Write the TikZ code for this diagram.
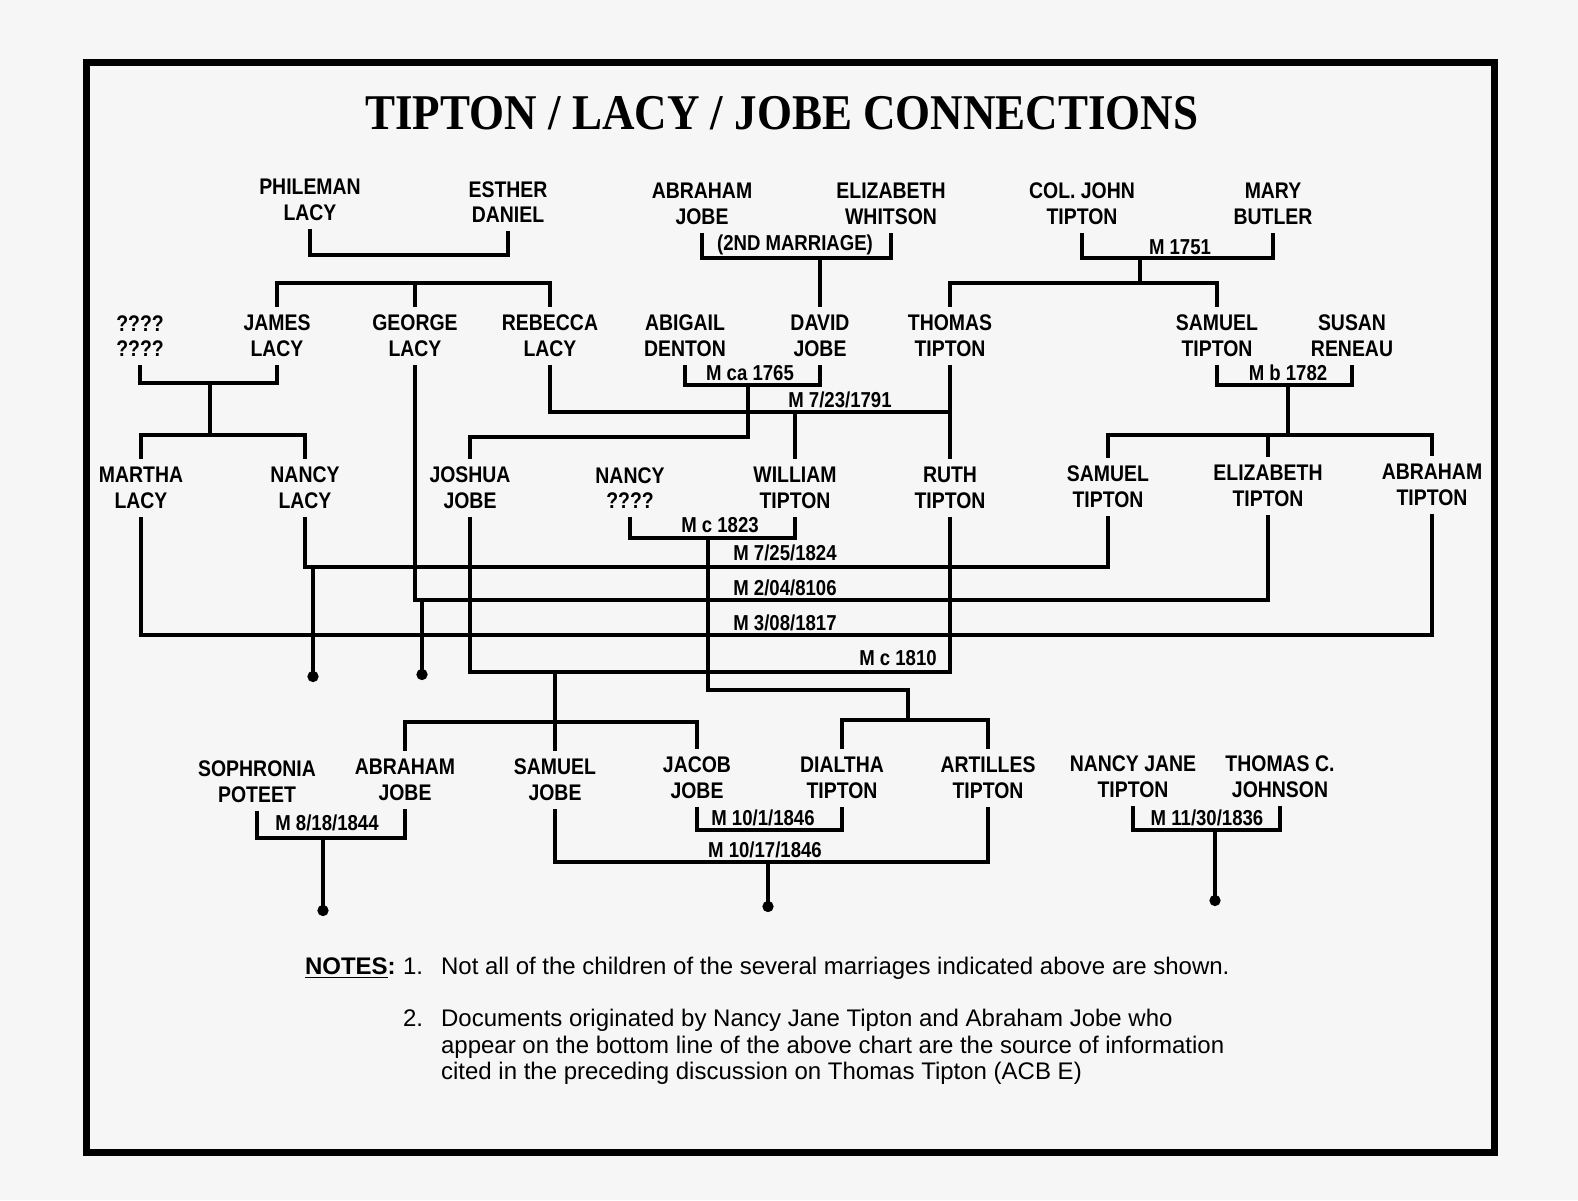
\documentclass[tikz,border=0pt]{standalone}
\usepackage{fontspec}
\setmainfont{Liberation Sans}
\newfontfamily\namefont{Liberation Sans}[FakeStretch=0.86]
\newfontfamily\titlefont{Liberation Serif}[FakeStretch=0.9]
\usetikzlibrary{positioning, arrows.meta}

\begin{document}
\begin{tikzpicture}[
    x=0.5pt, y=-0.5pt,
    person/.style={align=center, inner sep=4pt, font=\namefont\fontsize{11.3}{12.8}\selectfont\bfseries},
    mlabel/.style={inner sep=1pt, font=\namefont\fontsize{10.8}{12}\selectfont\bfseries},
    link/.style={line width=2pt},
    child/.style={line width=2pt, -{Circle[length=5.5pt]}},
    note/.style={anchor=west, align=left, font=\fontsize{12}{13.2}\selectfont}
]
    \useasboundingbox (0,0) rectangle (1578,1200);
    \fill[white!93!gray] (0,0) rectangle (1578,1200);
    \draw[line width=3.5pt] (86,62) rectangle (1494,1152);
    \node[font=\titlefont\fontsize{25}{27}\selectfont\bfseries] (title) at (782,113) {TIPTON / LACY / JOBE CONNECTIONS};

    % first generation
    \node[person] (phileman) at (310,200) {PHILEMAN\\LACY};
    \node[person] (esther) at (508,202) {ESTHER\\DANIEL};
    \node[person] (abrahamJ) at (702,204) {ABRAHAM\\JOBE};
    \node[person] (elizW) at (891,204) {ELIZABETH\\WHITSON};
    \node[person] (colJohn) at (1082,204) {COL. JOHN\\TIPTON};
    \node[person] (mary) at (1273,204) {MARY\\BUTLER};

    % second generation
    \node[person] (unknown) at (140,336) {????\\????};
    \node[person] (james) at (277,336) {JAMES\\LACY};
    \node[person] (george) at (415,336) {GEORGE\\LACY};
    \node[person] (rebecca) at (550,336) {REBECCA\\LACY};
    \node[person] (abigail) at (685,336) {ABIGAIL\\DENTON};
    \node[person] (david) at (820,336) {DAVID\\JOBE};
    \node[person] (thomas) at (950,336) {THOMAS\\TIPTON};
    \node[person] (samuelS) at (1217,336) {SAMUEL\\TIPTON};
    \node[person] (susan) at (1352,336) {SUSAN\\RENEAU};

    % third generation
    \node[person] (martha) at (141,488) {MARTHA\\LACY};
    \node[person] (nancyL) at (305,488) {NANCY\\LACY};
    \node[person] (joshua) at (470,488) {JOSHUA\\JOBE};
    \node[person] (nancyQ) at (630,488) {NANCY\\????};
    \node[person] (william) at (795,488) {WILLIAM\\TIPTON};
    \node[person] (ruth) at (950,488) {RUTH\\TIPTON};
    \node[person] (samuelJr) at (1108,487) {SAMUEL\\TIPTON};
    \node[person] (elizT) at (1268,486) {ELIZABETH\\TIPTON};
    \node[person] (abrahamT) at (1432,485) {ABRAHAM\\TIPTON};

    % fourth generation
    \node[person] (sophronia) at (257,782) {SOPHRONIA\\POTEET};
    \node[person] (abrahamJr) at (405,780) {ABRAHAM\\JOBE};
    \node[person] (samuelJ) at (555,780) {SAMUEL\\JOBE};
    \node[person] (jacob) at (697,778) {JACOB\\JOBE};
    \node[person] (dialtha) at (842,778) {DIALTHA\\TIPTON};
    \node[person] (artilles) at (988,778) {ARTILLES\\TIPTON};
    \node[person] (nancyJ) at (1133,777) {NANCY JANE\\TIPTON};
    \node[person] (thomasJ) at (1280,777) {THOMAS C.\\JOHNSON};

    % marriages, top
    \draw[link] (phileman.south) |- (408,255) -| (esther.south);
    \draw[link] (abrahamJ.south) |- (800,258) -| (elizW.south);
    \node[mlabel] (m2nd) at (795,245) {(2ND MARRIAGE)};
    \draw[link] (colJohn.south) |- (1180,258) -| (mary.south);
    \node[mlabel] (m1751) at (1180,247) {M 1751};

    % children of the first generation
    \draw[link] (james.north) |- (418,283) -| (rebecca.north);
    \draw[link] (george.north) -- (george.north |- 0,283);
    \draw[link] (820,258) -- (david.north);
    \draw[link] (1140,258) -- (1140,283);
    \draw[link] (thomas.north) |- (1100,283) -| (samuelS.north);

    % second generation marriages
    \draw[link] (unknown.south) |- (210,383) -| (james.south);
    \draw[link] (210,383) -- (210,435);
    \draw[link] (martha.north) |- (210,435) -| (nancyL.north);
    \draw[link] (abigail.south) |- (750,385) -| (david.south);
    \node[mlabel] (mca1765) at (750,373) {M ca 1765};
    \draw[link] (748,385) -- (748,437) -| (joshua.north);
    \draw[link] (rebecca.south) |- (948,412);
    \draw[link] (thomas.south) -- (ruth.north);
    \node[mlabel] (m1791) at (840,400) {M 7/23/1791};
    \draw[link] (795,412) -- (william.north);
    \draw[link] (samuelS.south) |- (1288,385) -| (susan.south);
    \node[mlabel] (mb1782) at (1288,373) {M b 1782};
    \draw[link] (1288,385) -- (1288,435);
    \draw[link] (samuelJr.north) |- (1258,435) -| (abrahamT.north);
    \draw[link] (elizT.north) -- (elizT.north |- 0,435);

    % third generation marriages
    \draw[link] (nancyQ.south) |- (708,538) -| (william.south);
    \node[mlabel] (mc1823) at (720,525) {M c 1823};
    \draw[link] (nancyL.south) |- (700,567) -| (samuelJr.south);
    \node[mlabel] (m1824) at (785,553) {M 7/25/1824};
    \draw[link] (george.south) |- (800,600) -| (elizT.south);
    \node[mlabel] (m8106) at (785,588) {M 2/04/8106};
    \draw[link] (martha.south) |- (800,635) -| (abrahamT.south);
    \node[mlabel] (m1817) at (785,623) {M 3/08/1817};
    \draw[link] (joshua.south) |- (700,672) -| (ruth.south);
    \node[mlabel] (mc1810) at (898,658) {M c 1810};
    \draw[child] (313,567) -- (313,682);
    \draw[child] (422,600) -- (422,680);

    % children of the third generation
    \draw[link] (708,538) -- (708,690) -| (908,720);
    \draw[link] (dialtha.north) |- (908,720) -| (artilles.north);
    \draw[link] (555,672) -- (samuelJ.north);
    \draw[link] (abrahamJr.north) |- (555,722) -| (jacob.north);

    % fourth generation marriages
    \draw[link] (sophronia.south) |- (323,838) -| (abrahamJr.south);
    \node[mlabel] (m1844) at (327,823) {M 8/18/1844};
    \draw[child] (323,838) -- (323,916);
    \draw[link] (jacob.south) |- (763,830) -| (dialtha.south);
    \node[mlabel] (m1846a) at (763,818) {M 10/1/1846};
    \draw[link] (samuelJ.south) |- (768,862) -| (artilles.south);
    \node[mlabel] (m1846b) at (765,850) {M 10/17/1846};
    \draw[child] (768,862) -- (768,912);
    \draw[link] (nancyJ.south) |- (1215,830) -| (thomasJ.south);
    \node[mlabel] (m1836) at (1207,818) {M 11/30/1836};
    \draw[child] (1215,830) -- (1215,906);

    % notes
    \node[note] (notes) at (298,968) {\textbf{\underline{NOTES}:}};
    \node[note] (n1) at (396,968) {1.\hspace{9pt}Not all of the children of the several marriages indicated above are shown.};
    \node[note] (n2) at (396,1047) {2.\hspace{9pt}\parbox[t]{480pt}{Documents originated by Nancy Jane Tipton and Abraham Jobe who\\appear on the bottom line of the above chart are the source of information\\cited in the preceding discussion on Thomas Tipton (ACB E)}};
\end{tikzpicture}
\end{document}
